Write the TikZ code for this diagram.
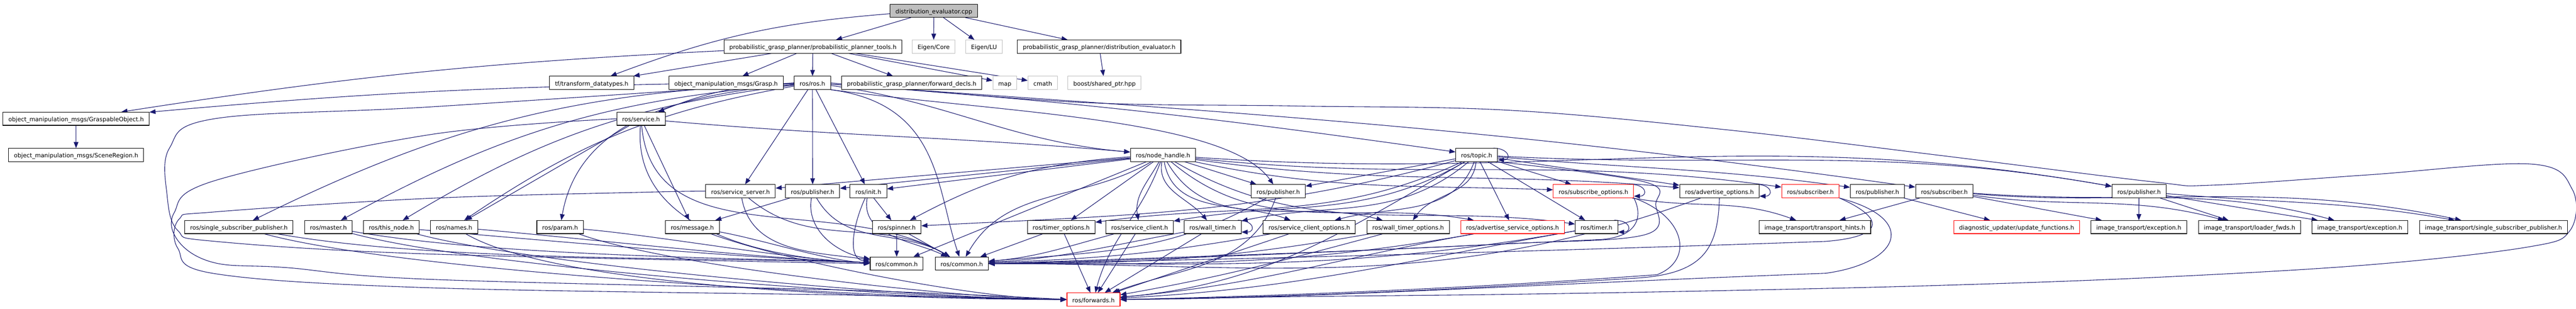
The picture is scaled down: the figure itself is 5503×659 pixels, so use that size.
\documentclass[tikz,border=0pt]{standalone}
\usepackage{fontspec}
\setmainfont{DejaVu Sans}
\usepackage{tikz}
\usetikzlibrary{arrows.meta,backgrounds}
\usepackage{xcolor}
\definecolor{depblue}{RGB}{25,25,112}
\definecolor{extgrey}{RGB}{191,191,191}
\tikzstyle{dep} = [line width=0.24pt, color=depblue, -{Triangle[length=2.6pt,width=2pt]}]
\tikzstyle{header} = [rectangle, draw=black, line width=0.24pt, fill=white, minimum height=5.6pt, inner xsep=2.3pt, inner ysep=0pt, text height=2.4pt, text depth=0pt, font=\fontsize{2.52}{2.8}\selectfont]
\tikzstyle{extheader} = [header, draw=extgrey]
\tikzstyle{cutheader} = [header, draw=red]
\tikzstyle{rootheader} = [header, fill=extgrey]

\begin{document}
\begin{tikzpicture}[x=0.2pt,y=0.2pt]
\useasboundingbox (0,0) rectangle (5503,-659);

% source file and direct includes
\node[rootheader] (cpp) at (1995,-22.9) {distribution\_evaluator.cpp};
\node[header] (tools) at (1736.5,-99.5) {probabilistic\_grasp\_planner/probabilistic\_planner\_tools.h};
\node[extheader] (core) at (1994.5,-99.5) {Eigen/Core};
\node[extheader] (lu) at (2102,-99.5) {Eigen/LU};
\node[header] (deval) at (2348,-99.5) {probabilistic\_grasp\_planner/distribution\_evaluator.h};

\node[header] (tfdt) at (1264,-176.8) {tf/transform\_datatypes.h};
\node[header] (grasp) at (1551,-176.8) {object\_manipulation\_msgs/Grasp.h};
\node[header] (rosh) at (1735.5,-176.8) {ros/ros.h};
\node[header] (fwdecl) at (1947.5,-176.8) {probabilistic\_grasp\_planner/forward\_decls.h};
\node[extheader] (map) at (2146.5,-176.8) {map};
\node[extheader] (cmath) at (2227.5,-176.8) {cmath};
\node[extheader] (shptr) at (2359.5,-176.8) {boost/shared\_ptr.hpp};

\node[header] (gobj) at (162.5,-253.4) {object\_manipulation\_msgs/GraspableObject.h};
\node[header] (service) at (1369.5,-253.4) {ros/service.h};

\node[header] (scene) at (162.5,-330.6) {object\_manipulation\_msgs/SceneRegion.h};
\node[header] (nh) at (2484.5,-330.6) {ros/node\_handle.h};
\node[header] (topic) at (3154.5,-330.6) {ros/topic.h};

% fifth row
\node[header] (ssrv) at (1582,-407.9) {ros/service\_server.h};
\node[header] (pubA) at (1736,-407.9) {ros/publisher.h};
\node[header] (init) at (1855,-407.9) {ros/init.h};
\node[header] (pubB) at (2730.5,-407.9) {ros/publisher.h};
\node[cutheader] (subopt) at (3404,-407.9) {ros/subscribe\_options.h};
\node[header] (advopt) at (3673,-407.9) {ros/advertise\_options.h};
\node[cutheader] (subA) at (3867.5,-407.9) {ros/subscriber.h};
\node[header] (pubC) at (4010.5,-407.9) {ros/publisher.h};
\node[header] (subB) at (4153.5,-407.9) {ros/subscriber.h};
\node[header] (pubD) at (4569.5,-407.9) {ros/publisher.h};

% sixth row
\node[header] (ssp) at (510.5,-484.5) {ros/single\_subscriber\_publisher.h};
\node[header] (master) at (701.5,-484.5) {ros/master.h};
\node[header] (thisnode) at (836,-484.5) {ros/this\_node.h};
\node[header] (names) at (970,-484.5) {ros/names.h};
\node[header] (param) at (1196.5,-484.5) {ros/param.h};
\node[header] (message) at (1479,-484.5) {ros/message.h};
\node[header] (spinner) at (1915.5,-484.5) {ros/spinner.h};
\node[header] (timopt) at (2267,-484.5) {ros/timer\_options.h};
\node[header] (sclient) at (2434.5,-484.5) {ros/service\_client.h};
\node[header] (wtimer) at (2590.5,-484.5) {ros/wall\_timer.h};
\node[header] (scopt) at (2797,-484.5) {ros/service\_client\_options.h};
\node[header] (wtopt) at (3008,-484.5) {ros/wall\_timer\_options.h};
\node[cutheader] (asopt) at (3231,-484.5) {ros/advertise\_service\_options.h};
\node[header] (timer) at (3410.5,-484.5) {ros/timer.h};
\node[header] (hints) at (3877,-484.5) {image\_transport/transport\_hints.h};
\node[cutheader] (updfn) at (4308,-484.5) {diagnostic\_updater/update\_functions.h};
\node[header] (excA) at (4569,-484.5) {image\_transport/exception.h};
\node[header] (loader) at (4805.5,-484.5) {image\_transport/loader\_fwds.h};
\node[header] (excB) at (5041,-484.5) {image\_transport/exception.h};
\node[header] (itssp) at (5326.5,-484.5) {image\_transport/single\_subscriber\_publisher.h};

% bottom
\node[header] (comA) at (1915.5,-562.4) {ros/common.h};
\node[header] (comB) at (2054.5,-562.4) {ros/common.h};
\node[cutheader] (fwd) at (2336,-639) {ros/forwards.h};

\begin{pgfonlayer}{background}
% top part
\draw[dep] (cpp) -- (tools);
\draw[dep] (cpp) -- (core);
\draw[dep] (cpp) -- (lu);
\draw[dep] (cpp) -- (deval);
\draw[dep] (cpp) to[bend right=8] (tfdt);
\draw[dep] (deval) -- (shptr);
\draw[dep] (tools) -- (tfdt);
\draw[dep] (tools) to[bend right=3] (gobj);
\draw[dep] (tools) -- (grasp);
\draw[dep] (tools) -- (rosh);
\draw[dep] (tools) -- (fwdecl);
\draw[dep] (tools) -- (map);
\draw[dep] (tools) -- (cmath);
\draw[dep] (grasp) to[bend right=2] (gobj);
\draw[dep] (gobj) -- (scene);

% ros/ros.h
\draw[dep] (rosh) to[bend right=10] (service);
\draw[dep] (rosh) to[bend right=12] (ssp);
\draw[dep] (rosh) to[bend right=12] (master);
\draw[dep] (rosh) to[bend right=12] (thisnode);
\draw[dep] (rosh) to[bend right=12] (names);
\draw[dep] (rosh) to[out=185,in=80] (param);
\draw[dep] (rosh) -- (ssrv);
\draw[dep] (rosh) -- (pubA);
\draw[dep] (rosh) -- (init);
\draw[dep] (rosh) to[out=-8,in=175] (nh);
\draw[dep] (rosh) to[out=-4,in=172] (topic);
\draw[dep] (rosh) to[out=-4,in=172] (subB);
\draw[dep] (rosh.south east) .. controls (2010,-222) and (2000,-404) .. (comB);
\draw[dep] (rosh.south east) .. controls (2150,-241) and (2620,-253) .. (pubB);
\draw[dep] plot[smooth,tension=0.6] coordinates {(rosh.west) (920,-228) (460,-253) (362,-316) (357,-417) (380,-492) (460,-515) (920,-542) (comA.west)};
\draw[dep] plot[smooth,tension=0.6] coordinates {(rosh.east) (2300,-218) (2760,-226) (3220,-235) (3680,-276) (4140,-331) (4600,-388) (4727,-395) (5060,-373) (5407,-350) (5495,-404) (5490,-492) (5400,-527) (5060,-565) (4600,-592) (4140,-609) (3680,-620) (3220,-628) (2760,-633) (fwd.east)};

% ros/service.h
\draw[dep] (service) to[out=-5,in=175] (nh);
\draw[dep] (service) -- (names);
\draw[dep] (service) -- (message);
\draw[dep] (service) to[out=-95,in=178] (comA);
\draw[dep] (service) to[out=-85,in=150] (comB);
\draw[dep] plot[smooth,tension=0.6] coordinates {(service.west) (920,-287) (460,-385) (372,-454) (383,-517) (460,-561) (613,-571) (920,-596) (1840,-620) (fwd.west)};

% fifth row, left
\draw[dep] plot[smooth,tension=0.6] coordinates {(ssrv.west) (1380,-410) (920,-423) (460,-452) (383,-467) (380,-530) (460,-584) (920,-614) (1840,-630) (fwd.west)};
\draw[dep] (ssrv) to[out=-80,in=172] (comA);
\draw[dep] (ssrv) to[out=-40,in=150] (comB);
\draw[dep] (pubA) -- (message);
\draw[dep] (pubA) to[out=-100,in=170] (comA);
\draw[dep] (pubA) to[out=-60,in=150] (comB);
\draw[dep] (init) -- (spinner);
\draw[dep] (init) to[out=-115,in=175] (comA);
\draw[dep] (init) to[out=-100,in=155] (comB);
\draw[dep] (spinner) -- (comA);
\draw[dep] (spinner) -- (comB);

% sixth row, left
\draw[dep] (ssp) to[out=-10,in=178,looseness=0.7] (comA);
\draw[dep] (ssp) to[out=-15,in=180,looseness=0.5] (fwd);
\draw[dep] (master) to[out=-10,in=178,looseness=0.7] (comA);
\draw[dep] (master) to[out=-15,in=180,looseness=0.5] (fwd);
\draw[dep] (thisnode) to[out=-5,in=178,looseness=0.7] (comA);
\draw[dep] (thisnode) to[out=-15,in=180,looseness=0.5] (fwd);
\draw[dep] (names) to[out=-5,in=178,looseness=0.7] (comA);
\draw[dep] (names) to[out=-30,in=180,looseness=0.5] (fwd);
\draw[dep] (param) to[out=-5,in=178,looseness=0.7] (comA);
\draw[dep] (param) to[out=-20,in=180,looseness=0.5] (fwd);
\draw[dep] (message) to[out=-10,in=178,looseness=0.7] (comA);
\draw[dep] (message) to[out=-20,in=180,looseness=0.6] (fwd);

% ros/node_handle.h
\draw[dep] (nh) -- (ssrv);
\draw[dep] (nh) -- (pubA);
\draw[dep] (nh) -- (init);
\draw[dep] (nh) to[bend right=12] (spinner);
\draw[dep] (nh) -- (timopt);
\draw[dep] (nh) to[out=-120,in=100] (sclient);
\draw[dep] (nh) to[out=-100,in=130] (wtimer);
\draw[dep] (nh) to[out=-80,in=160] (scopt);
\draw[dep] (nh) to[out=-60,in=165] (wtopt);
\draw[dep] (nh) to[out=-40,in=170] (asopt);
\draw[dep] (nh) to[out=-30,in=172] (timer);
\draw[dep] (nh) -- (pubB);
\draw[dep] (nh) to[out=-12,in=178] (subopt);
\draw[dep] (nh) to[out=-8,in=175] (advopt);
\draw[dep] (nh) to[out=-6,in=172] (subA);
\draw[dep] (nh) to[out=-4,in=170] (pubD);
\draw[dep] (nh) -- (comA);
\draw[dep] (nh) to[out=-150,in=60] (comB);
\draw[dep] (nh) to[out=-110,in=75] (fwd);

% ros/topic.h
\draw[dep] (topic) -- (pubB);
\draw[dep] (topic) -- (subopt);
\draw[dep] (topic) -- (advopt);
\draw[dep] (topic) -- (timer);
\draw[dep] (topic) -- (asopt);
\draw[dep] (topic) to[out=-95,in=55] (wtopt);
\draw[dep] (topic) to[out=-110,in=15] (scopt);
\draw[dep] (topic) to[out=-140,in=12] (wtimer);
\draw[dep] (topic) to[out=-150,in=10] (sclient);
\draw[dep] (topic) to[out=-155,in=8] (timopt);
\draw[dep] (topic) to[out=-165,in=3] (spinner);
\draw[dep] (topic) to[out=-5,in=172] (pubC);
\draw[dep] (topic) to[out=-3,in=170] (pubD);
\draw[dep] plot[smooth,tension=0.6] coordinates {(topic.south east) (3513,-388) (3537,-436) (3513,-501) (3220,-520) (2760,-540) (comB.east)};
\draw[dep] (topic) to[out=-150,in=5] (fwd);
\draw[dep] ([xshift=-2pt]topic.north east) .. controls +(34,0) and +(30,0) .. ([yshift=0.8pt]topic.south east);

% sixth row, middle
\draw[dep] (timopt) -- (comB);
\draw[dep] (timopt) -- (fwd);
\draw[dep] (sclient) to[out=-165,in=5] (comB);
\draw[dep] (sclient) -- (fwd);
\draw[dep] (wtimer) to[out=-170,in=3] (comB);
\draw[dep] (wtimer) -- (fwd);
\draw[dep] ([xshift=-1.6pt]wtimer.north east) .. controls +(36,0) and +(30,0) .. ([yshift=0.8pt]wtimer.south east);
\draw[dep] (scopt) to[out=-170,in=2] (comB);
\draw[dep] (scopt) -- (fwd);
\draw[dep] (wtopt) to[out=-170,in=0] (comB);
\draw[dep] (wtopt) to[out=-165,in=10] (fwd);
\draw[dep] (asopt) to[out=-170,in=0] (comB);
\draw[dep] (asopt) to[out=-170,in=5] (fwd);
\draw[dep] (timer) to[out=-170,in=0] (comB);
\draw[dep] (timer) to[out=-170,in=3] (fwd);
\draw[dep] ([xshift=-1.6pt]timer.north east) .. controls +(36,0) and +(30,0) .. ([yshift=0.8pt]timer.south east);
\draw[dep] (pubB) to[out=-150,in=5] (comB);
\draw[dep] (pubB) to[out=-110,in=20] (fwd);

% fifth row, right
\draw[dep] (subopt.south east) .. controls (3510,-461) and (3500,-505) .. (3420,-511) .. controls (3000,-530) and (2500,-555) .. (comB.east);
\draw[dep] (subopt.south east) .. controls (3600,-461) and (3620,-555) .. (3540,-586) .. controls (3200,-611) and (2800,-630) .. (fwd.east);
\draw[dep] (subopt) to[out=-10,in=160] (hints);
\draw[dep] ([xshift=-1.6pt]subopt.north east) .. controls +(36,0) and +(30,0) .. ([yshift=0.8pt]subopt.south east);
\draw[dep] (advopt) to[out=-160,in=0] (comB);
\draw[dep] (advopt.south) .. controls (3670,-530) and (3640,-583) .. (3500,-593) .. controls (3100,-618) and (2800,-633) .. (fwd.east);
\draw[dep] ([xshift=-1.6pt]advopt.north east) .. controls +(36,0) and +(30,0) .. ([yshift=0.8pt]advopt.south east);
\draw[dep] (subA.south east) .. controls (4030,-467) and (4025,-505) .. (3900,-515) .. controls (3300,-536) and (2600,-555) .. (comB.east);
\draw[dep] (subA.south east) .. controls (4100,-467) and (4060,-561) .. (3900,-583) .. controls (3300,-605) and (2800,-637) .. (fwd.east);
\draw[dep] (pubC) -- (updfn);
\draw[dep] (subB) -- (hints);
\draw[dep] (subB) -- (excA);
\draw[dep] (subB) to[out=-8,in=165] (loader);
\draw[dep] (subB) to[out=-5,in=165] (excB);
\draw[dep] (subB) to[out=-4,in=168] (itssp);
\draw[dep] (pubD) -- (excA);
\draw[dep] (pubD) -- (loader);
\draw[dep] (pubD) -- (excB);
\draw[dep] (pubD) to[out=-5,in=170] (itssp);
\end{pgfonlayer}
\end{tikzpicture}
\end{document}
